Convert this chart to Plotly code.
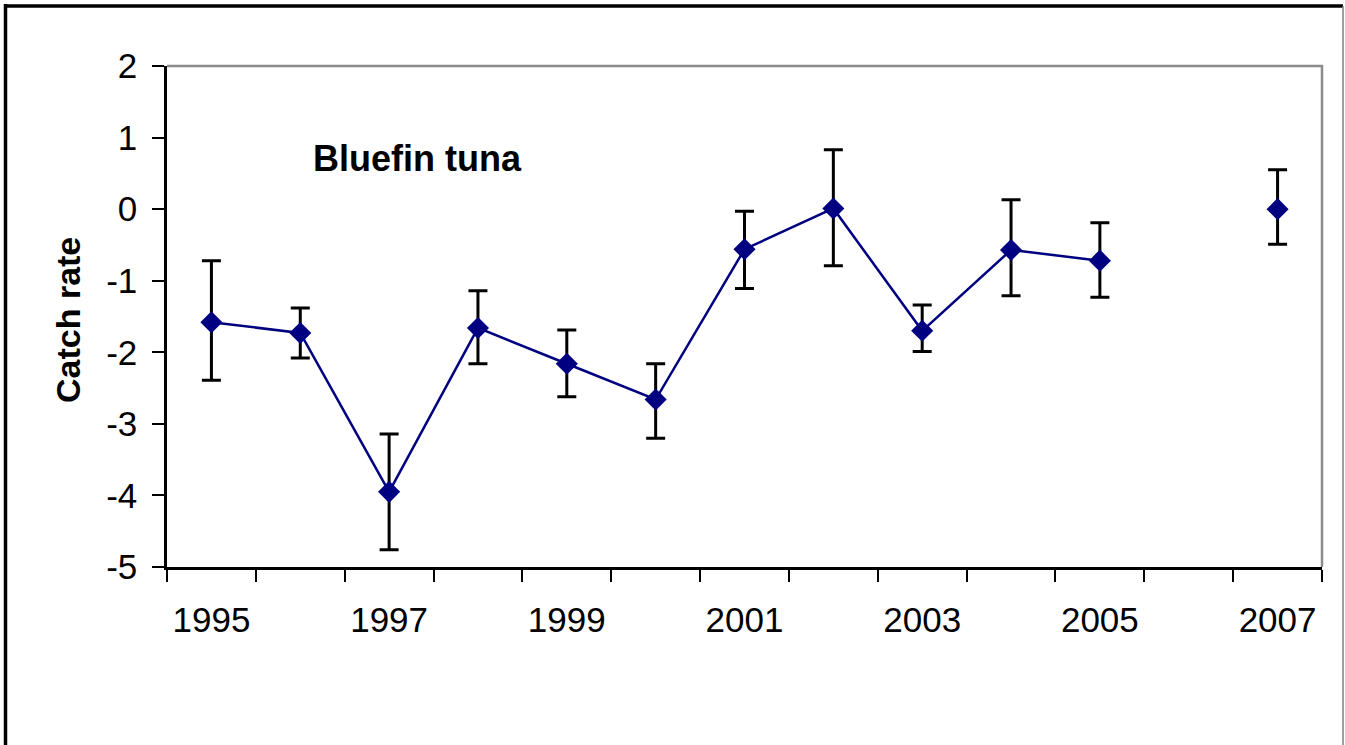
import plotly.graph_objects as go

years = [1995, 1996, 1997, 1998, 1999, 2000, 2001, 2002, 2003, 2004, 2005, 2006, 2007]
catch_rate = [-1.58, -1.73, -3.95, -1.66, -2.16, -2.66, -0.56, 0.01, -1.70, -0.57, -0.72, None, 0.0]
upper = [-0.72, -1.38, -3.14, -1.14, -1.69, -2.16, -0.03, 0.83, -1.34, 0.13, -0.19, None, 0.55]
lower = [-2.39, -2.08, -4.76, -2.16, -2.62, -3.20, -1.11, -0.79, -1.99, -1.21, -1.23, None, -0.49]
tick_labels = ["1995", "1997", "1999", "2001", "2003", "2005", "2007"]
tick_years = [1995, 1997, 1999, 2001, 2003, 2005, 2007]
y_tick_vals = [-5, -4, -3, -2, -1, 0, 1, 2]
y_tick_labels = ["-5", "-4", "-3", "-2", "-1", "0", "1", "2"]
series_name = "Bluefin tuna"
y_title = "Catch rate"

err_plus = [None if v is None else u - v for v, u in zip(catch_rate, upper)]
err_minus = [None if v is None else v - l for v, l in zip(catch_rate, lower)]

W, H = 1345, 745
ML, MR, MT, MB = 167, 23, 66, 178
PW, PH = W - ML - MR, H - MT - MB

def px_x(p):
    return (p - ML) / PW

def px_y(p):
    return (H - MB - p) / PH

FONT = "Liberation Sans, Arial, sans-serif"

fig = go.Figure()
fig.add_trace(go.Scatter(
    x=years, y=catch_rate,
    mode="lines+markers",
    connectgaps=False,
    line=dict(color="#000080", width=2.5),
    marker=dict(symbol="diamond", size=17, color="#000080"),
    error_y=dict(type="data", symmetric=False, array=err_plus, arrayminus=err_minus,
                 color="black", thickness=3, width=9.5),
    showlegend=False,
))

# gray top/right plot border
fig.add_shape(type="path", xref="paper", yref="paper",
              path="M 0,1 L 1,1 L 1,0", line=dict(color="#8c8c8c", width=2.5), layer="below")
# outer frame
fig.add_shape(type="line", xref="paper", yref="paper", x0=px_x(4), x1=px_x(1343), y0=px_y(6), y1=px_y(6),
              line=dict(color="black", width=3.5))
fig.add_shape(type="line", xref="paper", yref="paper", x0=px_x(5.5), x1=px_x(5.5), y0=px_y(4), y1=px_y(760),
              line=dict(color="black", width=3.5))
fig.add_shape(type="line", xref="paper", yref="paper", x0=px_x(1343), x1=px_x(1343), y0=px_y(6), y1=px_y(760),
              line=dict(color="#808080", width=1.5))

fig.add_annotation(text="<b>%s</b>" % series_name, xref="paper", yref="paper",
                   x=px_x(311), y=px_y(158), xanchor="left", yanchor="middle", showarrow=False,
                   font=dict(family=FONT, size=36, color="black"))
fig.add_annotation(text="<b>%s</b>" % y_title, xref="paper", yref="paper",
                   x=px_x(68), y=px_y(320), xanchor="center", yanchor="middle", showarrow=False,
                   textangle=-90, font=dict(family=FONT, size=34, color="black"))

fig.update_layout(
    width=W, height=H,
    margin=dict(l=ML, r=MR, t=MT, b=MB, pad=0),
    paper_bgcolor="white", plot_bgcolor="white",
    font=dict(family=FONT, size=35, color="black"),
    xaxis=dict(range=[1994.5, 2007.5], tickmode="array", tickvals=tick_years, ticktext=tick_labels,
               ticks="", showgrid=False, zeroline=False, showline=True, linecolor="black", linewidth=2.5,
               ticklabelstandoff=20,
               minor=dict(tickmode="linear", tick0=1994.5, dtick=1, ticks="outside", ticklen=12,
                          tickwidth=2, tickcolor="black", showgrid=False)),
    yaxis=dict(range=[-5, 2], tickmode="array", tickvals=y_tick_vals, ticktext=y_tick_labels,
               ticks="outside", ticklen=12,
               tickwidth=2, tickcolor="black", showgrid=False, zeroline=False, showline=True,
               linecolor="black", linewidth=2.5, ticklabelstandoff=8),
)

fig.write_html("out.html", config={"displayModeBar": False},
               post_script="document.body.style.margin='0';")
